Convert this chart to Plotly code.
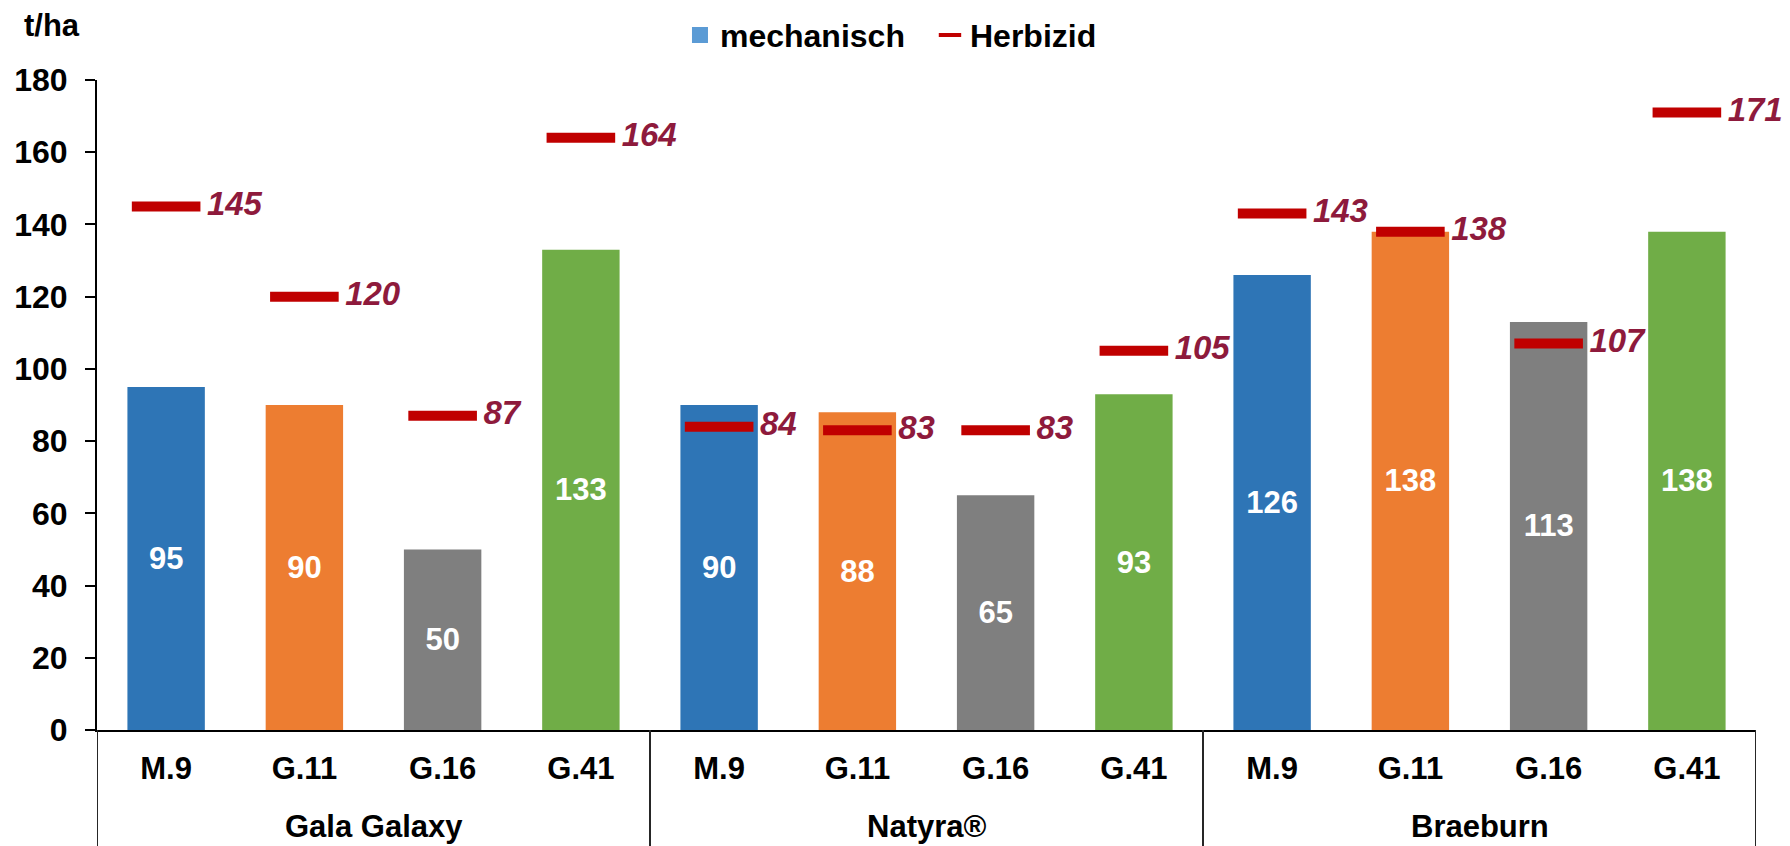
import plotly.graph_objects as go

sorten = ["Gala Galaxy", "Natyra®", "Braeburn"]
unterlagen = ["M.9", "G.11", "G.16", "G.41"]

mechanisch = [95, 90, 50, 133, 90, 88, 65, 93, 126, 138, 113, 138]
herbizid = [145, 120, 87, 164, 84, 83, 83, 105, 143, 138, 107, 171]

bar_colors = ["#2E75B6", "#ED7D31", "#7F7F7F", "#70AD47"] * 3

FONT = "Liberation Sans, Arial, sans-serif"

n = len(unterlagen)
xpos = list(range(len(mechanisch)))
ticktext = unterlagen * len(sorten)

fig = go.Figure()

fig.add_trace(go.Bar(
    x=xpos,
    y=mechanisch,
    marker=dict(color=bar_colors, line=dict(width=0)),
    width=0.56,
    text=[str(v) for v in mechanisch],
    textposition="inside",
    insidetextanchor="middle",
    insidetextfont=dict(family=FONT, size=31, color="white", weight="bold"),
    showlegend=False,
    name="mechanisch"
))

fig.add_trace(go.Scatter(
    x=xpos,
    y=herbizid,
    mode="markers+text",
    name="Herbizid",
    marker=dict(symbol="line-ew", size=49, color="#C00000",
                line=dict(width=10, color="#C00000")),
    text=[" " + str(v) for v in herbizid],
    textposition="middle right",
    textfont=dict(family=FONT, size=33, color="#8E1A3C", weight="bold", style="italic"),
    cliponaxis=False,
    showlegend=False
))

# legend entries
fig.add_trace(go.Scatter(
    x=[None], y=[None], mode="markers", name="mechanisch",
    marker=dict(symbol="square", size=17, color="#5B9BD5")
))
fig.add_trace(go.Scatter(
    x=[None], y=[None], mode="markers", name="Herbizid",
    marker=dict(symbol="line-ew", size=19, color="#C00000",
                line=dict(width=4, color="#C00000"))
))

# group labels and dividers under the axis
annotations = [dict(
    text="t/ha", xref="paper", yref="paper", x=-0.0452, y=1.0846,
    xanchor="left", yanchor="middle", showarrow=False,
    font=dict(family=FONT, size=31, color="black", weight="bold")
)]
shapes = []
for g, name in enumerate(sorten):
    annotations.append(dict(
        text=name, xref="x", yref="paper", x=g * n + (n - 1) / 2, y=-0.149,
        xanchor="center", yanchor="middle", showarrow=False,
        font=dict(family=FONT, size=31, color="black", weight="bold")
    ))
for g in range(len(sorten) + 1):
    shapes.append(dict(
        type="line", xref="x", yref="paper", x0=g * n - 0.5, x1=g * n - 0.5,
        y0=0, y1=-0.2, line=dict(color="#262626", width=2)
    ))

fig.update_layout(
    width=1790, height=846,
    margin=dict(l=97, r=34, t=80, b=116, autoexpand=False),
    paper_bgcolor="white",
    plot_bgcolor="white",
    font=dict(family=FONT, size=30, color="black"),
    legend=dict(
        orientation="h", x=0.5021, xanchor="center", y=1.069, yanchor="middle",
        font=dict(family=FONT, size=32, color="black", weight="bold"),
        entrywidth=205, itemclick=False
    ),
    annotations=annotations,
    shapes=shapes
)

fig.update_yaxes(
    range=[0, 180], dtick=20, showgrid=False, zeroline=False,
    showline=True, linecolor="black", linewidth=2,
    ticks="outside", ticklen=10, tickwidth=2, tickcolor="black",
    ticklabelstandoff=11,
    tickfont=dict(family=FONT, size=32, color="black", weight="bold")
)

fig.update_xaxes(
    range=[-0.5, len(mechanisch) - 0.5], showgrid=False, zeroline=False,
    showline=True, linecolor="black", linewidth=2,
    tickmode="array", tickvals=xpos, ticktext=ticktext, ticks="",
    ticklabelstandoff=10,
    tickfont=dict(family=FONT, size=31, color="black", weight="bold")
)

fig.write_html("out.html", config={"displayModeBar": False},
               post_script="document.body.style.margin = '0';")
